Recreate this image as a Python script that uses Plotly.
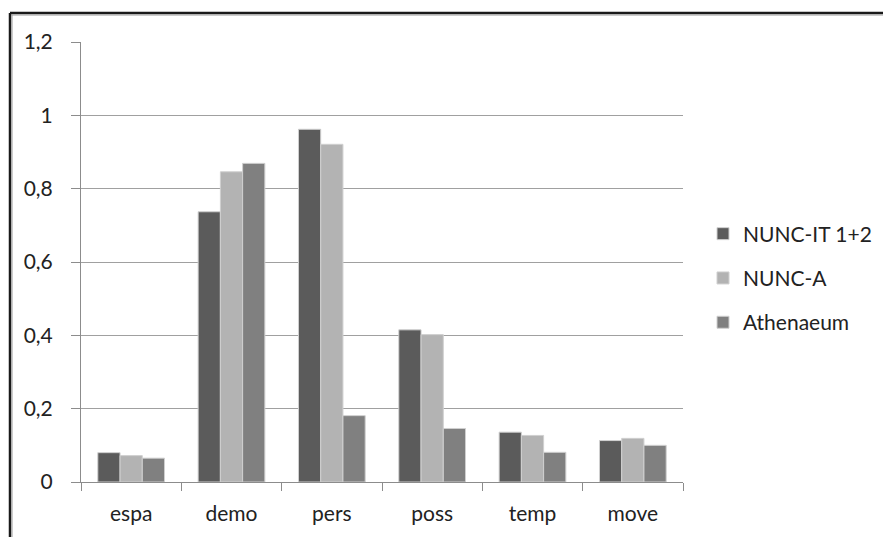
import plotly.graph_objects as go

categories = ["espa", "demo", "pers", "poss", "temp", "move"]
nunc_it = [0.080, 0.737, 0.962, 0.415, 0.136, 0.113]
nunc_a = [0.072, 0.846, 0.921, 0.402, 0.127, 0.119]
athenaeum = [0.065, 0.869, 0.181, 0.146, 0.081, 0.100]
series_names = ["NUNC-IT 1+2", "NUNC-A", "Athenaeum"]
colors = ["#5b5b5b", "#b3b3b3", "#808080"]

FONT = "Lato, 'Open Sans', sans-serif"

fig = go.Figure()
for i, (name, vals) in enumerate(zip(series_names, [nunc_it, nunc_a, athenaeum])):
    fig.add_trace(go.Bar(
        x=categories, y=vals, name=name, legendgroup=f"g{i}",
        marker=dict(color=colors[i], line=dict(color="#d0d0d0", width=1)),
    ))

W, H = 883, 537
L, R, T, B = 81, 200, 42, 55
pw, ph = W - L - R, H - T - B

def px_x(px):
    return (px - L) / pw

def px_y(py):
    return (H - B - py) / ph

shapes = [
    # frame: dark line with light shadow
    dict(type="line", xref="paper", yref="paper", x0=px_x(10), x1=px_x(900), y0=px_y(13), y1=px_y(13),
         line=dict(color="#1a1a1a", width=2.5)),
    dict(type="line", xref="paper", yref="paper", x0=px_x(11.5), x1=px_x(900), y0=px_y(15), y1=px_y(15),
         line=dict(color="#9a9a9a", width=1)),
    dict(type="line", xref="paper", yref="paper", x0=px_x(10), x1=px_x(10), y0=px_y(13), y1=px_y(560),
         line=dict(color="#1a1a1a", width=2.5)),
    dict(type="line", xref="paper", yref="paper", x0=px_x(12), x1=px_x(12), y0=px_y(14.5), y1=px_y(560),
         line=dict(color="#9a9a9a", width=1)),
]

fig.update_layout(
    width=W, height=H,
    margin=dict(l=L, r=R, t=T, b=B, autoexpand=False),
    paper_bgcolor="white", plot_bgcolor="white",
    barmode="group", bargap=0.335, bargroupgap=0,
    separators=",.",
    font=dict(family=FONT, size=21, color="#222222"),
    showlegend=True,
    legend=dict(
        x=px_x(703), y=px_y(278), xanchor="left", yanchor="middle",
        font=dict(family=FONT, size=21, color="#222222"),
        tracegroupgap=14, itemwidth=30, bgcolor="rgba(0,0,0,0)",
    ),
    shapes=shapes,
)
fig.update_xaxes(
    showline=True, linecolor="#8c8c8c", linewidth=1,
    ticks="outside", tickson="boundaries", ticklen=8, tickcolor="#8c8c8c",
    showgrid=False, tickfont=dict(size=21), ticklabelstandoff=13, automargin=False,
)
fig.update_yaxes(
    range=[0, 1.2], dtick=0.2, tick0=0,
    showline=True, linecolor="#8c8c8c", linewidth=1,
    ticks="outside", ticklen=9, tickcolor="#8c8c8c",
    showgrid=True, gridcolor="#a0a0a0", gridwidth=1,
    zeroline=False, tickfont=dict(size=21), ticklabelstandoff=14, automargin=False,
)

fig.write_html(
    "out.html",
    config={"displayModeBar": False},
    post_script="document.body.style.margin='0';document.body.style.padding='0';",
)
